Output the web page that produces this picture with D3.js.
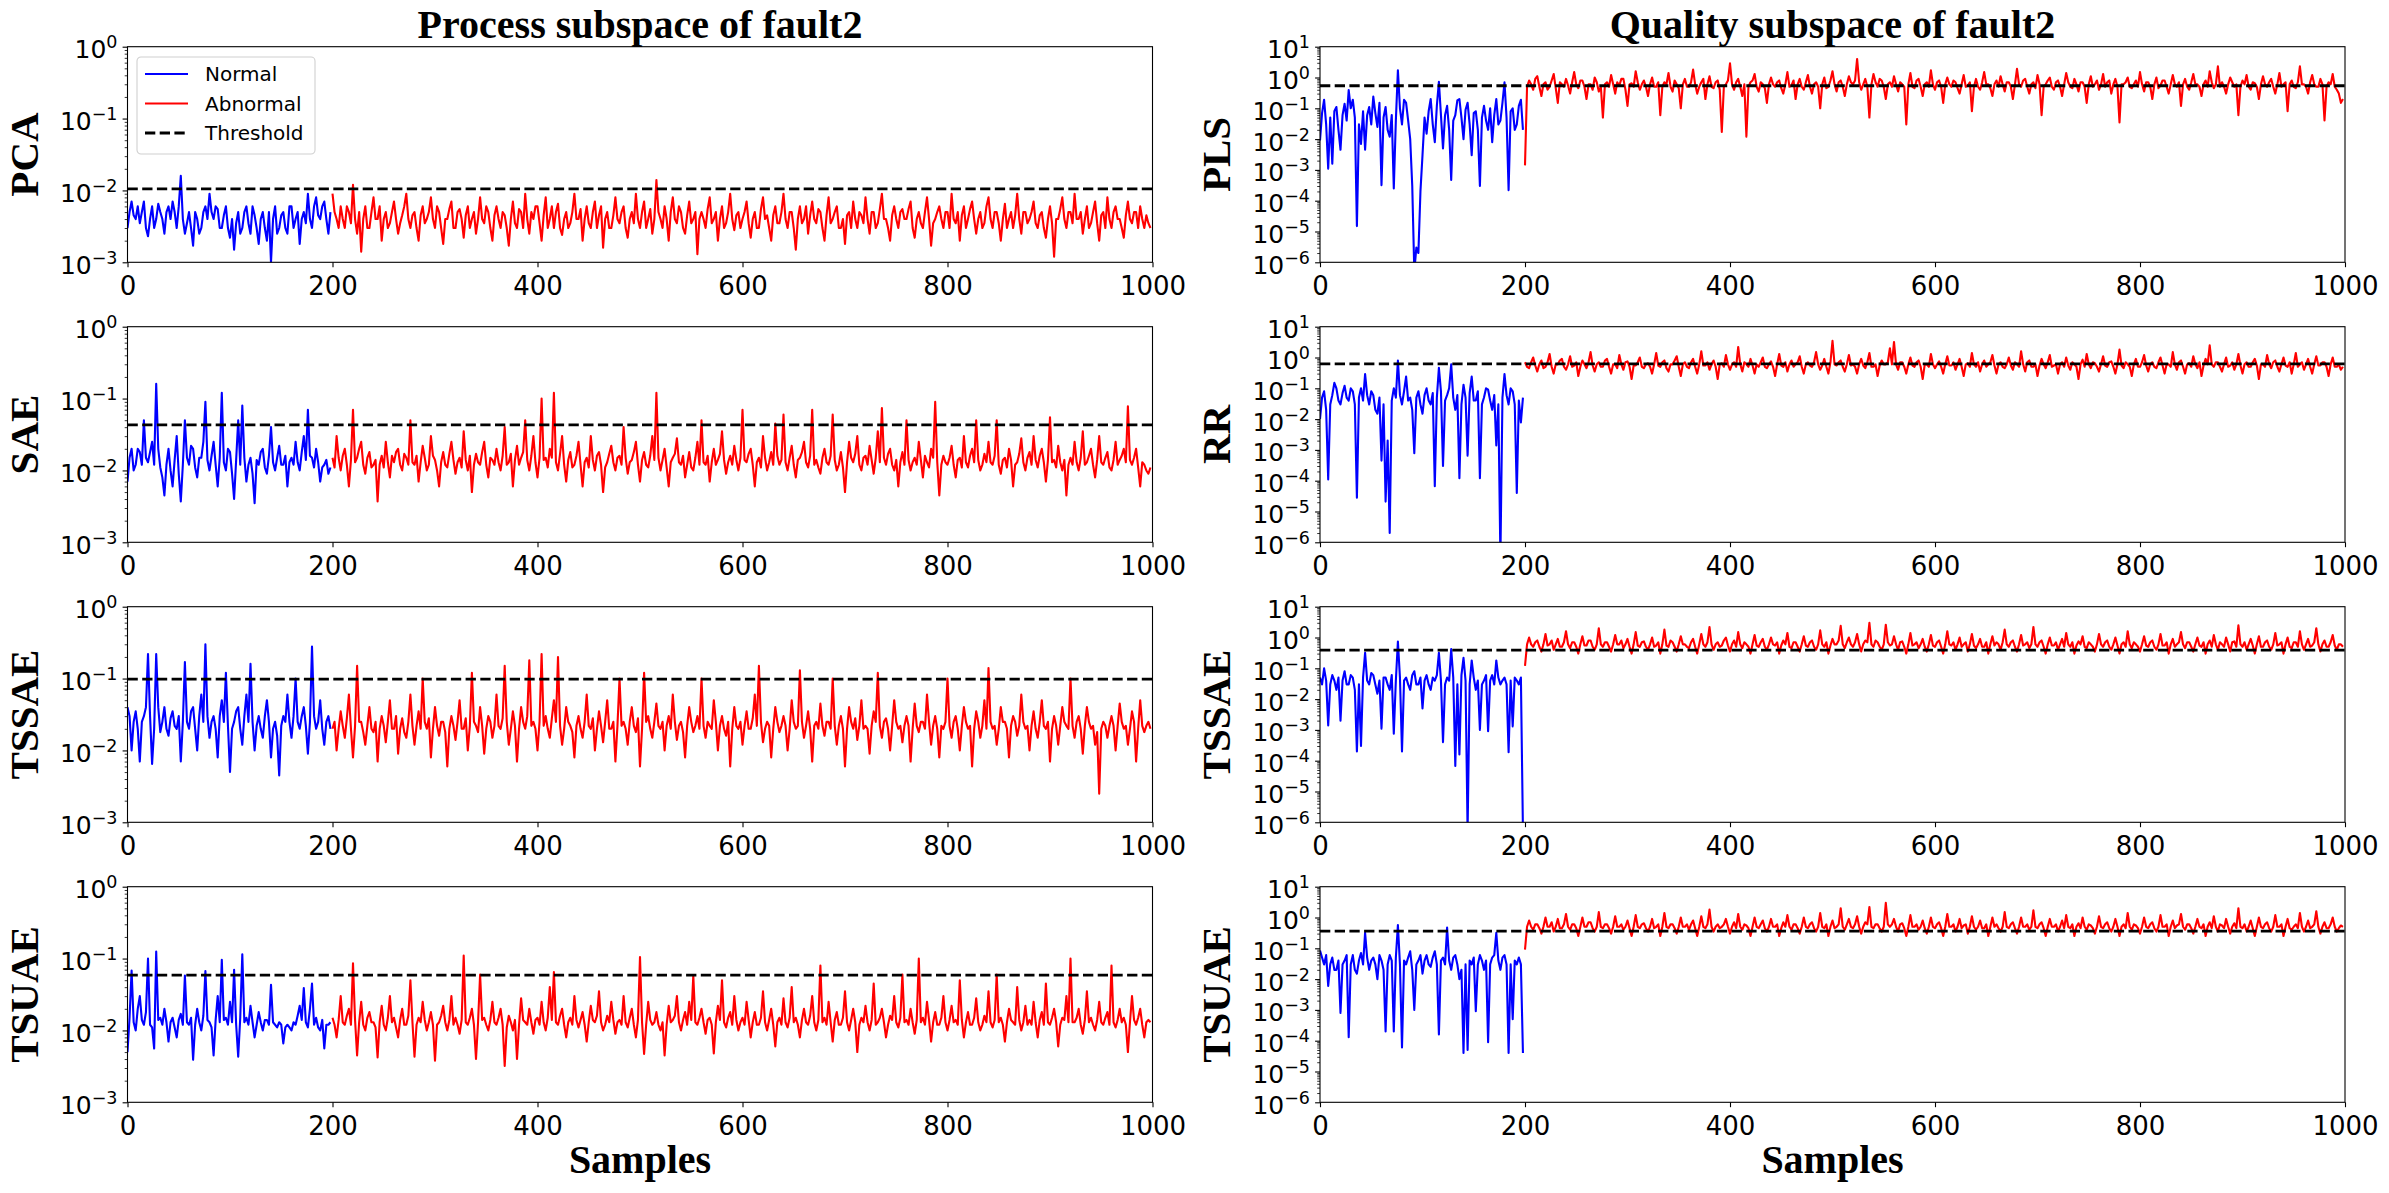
<!DOCTYPE html>
<html>
<head>
<meta charset="utf-8">
<script src="https://cdn.jsdelivr.net/npm/d3@7"></script>
<style>
body { margin: 0; background: #fff; }
</style>
</head>
<body>
<svg id="chart" width="2389" height="1193"></svg>
<script>
// values read every 2nd sample off the picture
var sampleStep = 2;
var faultStart = 200;
var xTicks = [0, 200, 400, 600, 800, 1000];
var columnTitles = ["Process subspace of fault2", "Quality subspace of fault2"];
var legendLabels = ["Normal", "Abnormal", "Threshold"];

// ---- process subspace ----
var pcaNormal = [3e-3,5e-3,7e-3,4.5e-3,4e-3,6e-3,3.5e-3,5e-3,7e-3,3e-3,2.3e-3,4e-3,6e-3,3e-3,4e-3,6.5e-3,5e-3,4e-3,2.5e-3,5e-3,
 6e-3,4e-3,7e-3,5e-3,3e-3,6e-3,1.6e-2,4e-3,2.5e-3,3.5e-3,5e-3,3e-3,1.7e-3,5e-3,4e-3,2.5e-3,3e-3,5e-3,6e-3,4e-3,
 9e-3,5e-3,4e-3,6e-3,5.5e-3,3e-3,3e-3,4.5e-3,6e-3,3e-3,2.2e-3,4e-3,1.5e-3,3.5e-3,5e-3,2.5e-3,3e-3,5e-3,6e-3,3.5e-3,
 2.5e-3,6e-3,4.5e-3,3e-3,1.8e-3,4e-3,5e-3,3e-3,2e-3,5e-3,1e-3,4e-3,6e-3,2.5e-3,3e-3,4.5e-3,5e-3,3e-3,2.5e-3,6e-3,
 6e-3,3e-3,4e-3,5e-3,1.8e-3,4e-3,5e-3,3.5e-3,9e-3,4e-3,3e-3,6e-3,8e-3,4.5e-3,4e-3,6e-3,7e-3,4e-3,2.5e-3,5e-3];
var pcaAbnormal = [9e-3,5e-3,4e-3,3e-3,6e-3,4e-3,3e-3,6e-3,5e-3,3.5e-3,1.2e-2,4e-3,2.5e-3,5e-3,1.4e-3,4e-3,6e-3,3e-3,3e-3,5e-3,
 8e-3,4e-3,4e-3,6e-3,2e-3,4e-3,5e-3,3e-3,3.5e-3,5e-3,7e-3,4e-3,2.5e-3,3.5e-3,4.5e-3,6e-3,9e-3,4e-3,3e-3,4.5e-3,
 5e-3,3e-3,2e-3,4.5e-3,6e-3,3.5e-3,4e-3,5e-3,8e-3,4e-3,3e-3,6e-3,5e-3,3e-3,1.8e-3,4e-3,4e-3,5.5e-3,7e-3,3e-3,
 3e-3,5e-3,5.5e-3,4e-3,2.2e-3,4.5e-3,6e-3,3e-3,4e-3,5e-3,2.5e-3,4e-3,8e-3,4e-3,3.5e-3,6e-3,5e-3,3e-3,2e-3,4.5e-3,
 6e-3,4e-3,3e-3,5e-3,4.5e-3,3e-3,1.7e-3,4e-3,7e-3,3.5e-3,3e-3,5.5e-3,5e-3,3e-3,9e-3,4e-3,2.5e-3,5e-3,4e-3,6e-3,
 6e-3,3.5e-3,2e-3,4.5e-3,8e-3,3e-3,4e-3,6e-3,3e-3,5e-3,6.5e-3,3e-3,2.4e-3,4e-3,5e-3,3e-3,3.5e-3,5e-3,9e-3,4e-3,
 4e-3,5.5e-3,2e-3,4e-3,6e-3,3.5e-3,3e-3,5e-3,7e-3,3e-3,4.5e-3,6e-3,1.6e-3,4e-3,5e-3,3e-3,3e-3,4.5e-3,8e-3,4e-3,
 3.5e-3,5e-3,6e-3,3e-3,2.2e-3,4e-3,5e-3,3.5e-3,9e-3,4e-3,3e-3,5e-3,7e-3,3e-3,4e-3,5.5e-3,2.5e-3,4e-3,1.4e-2,5e-3,
 4e-3,3e-3,6e-3,4e-3,2e-3,5e-3,8e-3,4e-3,3.5e-3,6e-3,5e-3,3e-3,2.5e-3,4.5e-3,7e-3,3.5e-3,4e-3,5e-3,1.3e-3,4e-3,
 5e-3,4e-3,3e-3,5.5e-3,8e-3,3.5e-3,4e-3,5e-3,2e-3,4e-3,6e-3,3e-3,3.5e-3,5e-3,9e-3,4e-3,2.8e-3,4.5e-3,5e-3,3e-3,
 4e-3,5e-3,7e-3,3.5e-3,2.2e-3,4e-3,5e-3,3e-3,3e-3,5.5e-3,8e-3,4e-3,4.5e-3,3e-3,2e-3,4.5e-3,6e-3,3.5e-3,3.5e-3,5e-3,
 9e-3,4e-3,3e-3,5e-3,5e-3,3e-3,1.5e-3,4e-3,6e-3,3.5e-3,4e-3,6e-3,2.5e-3,4.5e-3,7e-3,4e-3,3.5e-3,5.5e-3,5e-3,3e-3,
 2e-3,4.5e-3,8e-3,3.5e-3,4e-3,5e-3,6e-3,3e-3,3e-3,4e-3,1.8e-3,4.5e-3,5e-3,3e-3,7e-3,4e-3,3e-3,5e-3,4.5e-3,3.5e-3,
 8e-3,4e-3,2.5e-3,5e-3,5e-3,3e-3,3.5e-3,5.5e-3,9e-3,4e-3,4e-3,3e-3,2e-3,4.5e-3,6e-3,4e-3,3e-3,5e-3,5.5e-3,4e-3,
 4e-3,5.5e-3,7e-3,3e-3,2.2e-3,4e-3,5e-3,3.5e-3,3e-3,5e-3,8e-3,4e-3,1.7e-3,3.5e-3,4e-3,5e-3,6e-3,4e-3,3e-3,5e-3,
 5e-3,3e-3,9e-3,4e-3,3.5e-3,5e-3,2e-3,4.5e-3,6e-3,3e-3,4e-3,5.5e-3,7e-3,4e-3,2.5e-3,4e-3,5e-3,3e-3,3.5e-3,6e-3,
 8e-3,4e-3,3e-3,5e-3,5e-3,3.5e-3,2e-3,4e-3,6.5e-3,3e-3,4e-3,5e-3,3e-3,4.5e-3,9e-3,4e-3,2.5e-3,5e-3,5e-3,3.5e-3,
 4e-3,5e-3,7e-3,3.5e-3,3e-3,4.5e-3,5e-3,3e-3,2.2e-3,4e-3,6e-3,3.5e-3,1.2e-3,4e-3,4e-3,5.5e-3,8e-3,4e-3,3e-3,5e-3,
 5e-3,3.5e-3,9e-3,4e-3,4e-3,5e-3,2.5e-3,4e-3,6e-3,3e-3,3.5e-3,5e-3,7e-3,3.5e-3,2e-3,4.5e-3,5e-3,3e-3,8e-3,4e-3,
 3e-3,5e-3,6e-3,4e-3,4e-3,3e-3,2.2e-3,4.5e-3,7e-3,4e-3,3.5e-3,5e-3,5e-3,3e-3,6e-3,4e-3,3e-3,4.5e-3,3.5e-3,3e-3];

var saeNormal = [7e-3,1.5e-2,2e-2,1e-2,1.2e-2,2e-2,1.8e-2,1.2e-2,5e-2,1.5e-2,1.3e-2,1.8e-2,2.5e-2,1.2e-2,1.6e-1,2e-2,1.1e-2,8e-3,4.5e-3,1.2e-2,
 2e-2,1e-2,6e-3,1.4e-2,3e-2,9e-3,3.7e-3,1.2e-2,5e-2,1.5e-2,1.2e-2,2.2e-2,2e-2,1.1e-2,8e-3,1.5e-2,1.5e-2,2.5e-2,9e-2,1.4e-2,
 1e-2,1.6e-2,2.5e-2,1.2e-2,6e-3,1.5e-2,1.2e-1,1.3e-2,1e-2,2e-2,1.8e-2,9e-3,4e-3,1.4e-2,5e-2,1.2e-2,8e-2,1.5e-2,7e-3,1.2e-2,
 1.5e-2,9e-3,3.5e-3,1.4e-2,1.2e-2,1.8e-2,2e-2,1.1e-2,9e-3,1.6e-2,4e-2,1.3e-2,1e-2,1.5e-2,2.2e-2,1.2e-2,1.2e-2,1.6e-2,6e-3,1.3e-2,
 1.5e-2,1.2e-2,2.5e-2,1.3e-2,1e-2,1.8e-2,3e-2,1.4e-2,7e-2,1.6e-2,1.5e-2,1.1e-2,2e-2,1.3e-2,7e-3,1.1e-2,1.2e-2,1.4e-2,9e-3,1.1e-2];
var saeAbnormal = [1.5e-2,1.1e-2,3e-2,1.5e-2,1e-2,1.6e-2,2e-2,1.2e-2,6e-3,1.4e-2,7e-2,1.3e-2,1.5e-2,2e-2,2.5e-2,1.2e-2,9e-3,1.5e-2,1.8e-2,1.1e-2,
 1.2e-2,1.4e-2,3.7e-3,1.2e-2,1.6e-2,1.1e-2,2.5e-2,1.3e-2,8e-3,1.6e-2,1.3e-2,1.8e-2,2e-2,1.2e-2,1e-2,1.7e-2,1.5e-2,1.2e-2,5e-2,1.3e-2,
 1.2e-2,1.6e-2,7e-3,1.3e-2,2.2e-2,1.5e-2,1e-2,1.2e-2,3e-2,1.6e-2,1.4e-2,1e-2,6e-3,1.3e-2,1.8e-2,1.2e-2,1.1e-2,1.7e-2,2.5e-2,1.4e-2,
 9e-3,1.3e-2,1.5e-2,1.1e-2,3.5e-2,1.4e-2,1e-2,1.6e-2,5e-3,1.2e-2,1.7e-2,1.3e-2,1.2e-2,1.8e-2,2.5e-2,1.2e-2,8e-3,1.5e-2,1.4e-2,1.2e-2,
 2e-2,1.3e-2,1e-2,1.6e-2,4e-2,1.2e-2,1.3e-2,1.7e-2,6e-3,1.4e-2,2.2e-2,1.2e-2,1.5e-2,1.8e-2,5e-2,1.4e-2,1e-2,1.6e-2,3e-2,1.3e-2,
 8e-3,1.5e-2,1e-1,1.4e-2,1.5e-2,1.1e-2,2e-2,1.5e-2,1.2e-1,1.3e-2,1e-2,1.7e-2,3e-2,1.2e-2,7e-3,1.4e-2,1.8e-2,1.1e-2,1.2e-2,1.6e-2,
 2.5e-2,1.2e-2,6e-3,1.3e-2,1.5e-2,1.1e-2,3e-2,1.4e-2,1e-2,1.6e-2,1.8e-2,1.2e-2,5e-3,1.1e-2,1.3e-2,1.7e-2,2.2e-2,1.3e-2,1e-2,1.5e-2,
 1.6e-2,1.2e-2,4e-2,1.5e-2,9e-3,1.3e-2,1.4e-2,1.8e-2,2.5e-2,1.2e-2,7e-3,1.4e-2,1.8e-2,1.2e-2,1.1e-2,1.6e-2,3e-2,1.4e-2,1.2e-1,1.5e-2,
 1e-2,1.4e-2,2e-2,1.1e-2,6e-3,1.3e-2,1.5e-2,1.7e-2,2.8e-2,1.3e-2,1.2e-2,1.6e-2,8e-3,1.2e-2,1.8e-2,1.1e-2,1e-2,1.5e-2,2.5e-2,1.2e-2,
 5e-2,1.3e-2,1.2e-2,1.6e-2,7e-3,1.3e-2,2e-2,1.2e-2,1.4e-2,1.7e-2,3.5e-2,1.4e-2,9e-3,1.3e-2,1.6e-2,1.2e-2,2.2e-2,1.4e-2,1e-2,1.5e-2,
 7e-2,1.4e-2,1.3e-2,1.7e-2,2e-2,1.2e-2,6e-3,1.3e-2,1.5e-2,1.1e-2,3e-2,1.5e-2,1e-2,1.3e-2,1.8e-2,1.2e-2,4.5e-2,1.6e-2,1.2e-2,1.4e-2,
 6e-2,1.3e-2,1e-2,1.5e-2,2.2e-2,1.2e-2,8e-3,1.4e-2,1.5e-2,1.8e-2,2.5e-2,1.3e-2,1.1e-2,1.6e-2,7e-2,1.2e-2,1.4e-2,1.1e-2,9e-3,1.5e-2,
 2e-2,1.3e-2,1.2e-2,1.6e-2,6e-2,1.4e-2,1e-2,1.2e-2,1.8e-2,1.1e-2,5e-3,1.3e-2,2.5e-2,1.5e-2,1.3e-2,1.7e-2,3e-2,1.2e-2,1e-2,1.5e-2,
 1.6e-2,1.2e-2,2.2e-2,1.4e-2,9e-3,1.5e-2,3.5e-2,1.3e-2,7.4e-2,1.5e-2,1.2e-2,1.7e-2,2e-2,1.2e-2,1e-2,1.4e-2,6e-3,1.3e-2,1.8e-2,1.2e-2,
 5e-2,1.4e-2,1e-2,1.3e-2,1.5e-2,1.2e-2,2.5e-2,1.4e-2,8e-3,1.6e-2,1.3e-2,1.1e-2,2e-2,1.5e-2,9e-2,1.3e-2,4.5e-3,1.2e-2,1.6e-2,1.3e-2,
 1.2e-2,1.5e-2,2.2e-2,1.2e-2,8e-3,1.4e-2,1.5e-2,1.1e-2,3e-2,1.3e-2,1.1e-2,1.6e-2,2e-2,1.3e-2,5e-2,1.4e-2,1e-2,1.2e-2,1.7e-2,1.3e-2,
 2.5e-2,1.3e-2,1.2e-2,1.6e-2,5e-2,1.2e-2,9e-3,1.4e-2,1.5e-2,1.1e-2,2e-2,1.4e-2,6e-3,1.2e-2,1.3e-2,1.7e-2,2.8e-2,1.3e-2,1e-2,1.5e-2,
 1.8e-2,1.2e-2,3e-2,1.4e-2,1.1e-2,1.6e-2,2e-2,1.3e-2,7e-3,1.4e-2,5.5e-2,1.3e-2,1.4e-2,1.1e-2,2.2e-2,1.3e-2,1e-2,1.4e-2,4.5e-3,1.2e-2,
 1.5e-2,1.2e-2,2.5e-2,1.3e-2,1e-2,1.5e-2,3.5e-2,1.2e-2,1.3e-2,1.6e-2,2e-2,1.2e-2,8e-3,1.4e-2,3e-2,1.3e-2,1.2e-2,1.5e-2,1.8e-2,1.1e-2,
 1e-2,1.4e-2,2.5e-2,1.2e-2,1.4e-2,1.6e-2,2e-2,1.3e-2,7.8e-2,1.4e-2,1.2e-2,1.5e-2,2e-2,1.1e-2,6e-3,1.3e-2,1.2e-2,1e-2,9e-3,1.1e-2];

var tssaeProcNormal = [4e-2,3e-2,1e-2,2.5e-2,3.5e-2,2e-2,7e-3,2.5e-2,3e-2,4e-2,2.2e-1,3e-2,6.5e-3,2e-2,2.2e-1,4e-2,1.8e-2,2.5e-2,4e-2,2e-2,
 1.6e-2,2.8e-2,3.5e-2,2.2e-2,2e-2,3e-2,7e-3,2.5e-2,1.7e-1,2.5e-2,2e-2,3.5e-2,4e-2,2e-2,1e-2,3e-2,6e-2,2.5e-2,3e-1,3e-2,
 1.5e-2,2.5e-2,3e-2,2e-2,8e-3,3e-2,5e-2,2.5e-2,1.2e-1,2.2e-2,5e-3,2e-2,2.5e-2,3.5e-2,4e-2,2e-2,1.2e-2,3e-2,6e-2,2.5e-2,
 1.6e-1,2.5e-2,1e-2,2.2e-2,3e-2,2e-2,1.5e-2,3e-2,5e-2,2.5e-2,8e-3,2e-2,2.5e-2,1.6e-2,4.5e-3,2.2e-2,3e-2,2.5e-2,6e-2,2.5e-2,
 1.5e-2,3e-2,1e-1,2.5e-2,2e-2,3e-2,4e-2,2.2e-2,9e-3,2.5e-2,2.8e-1,3e-2,2e-2,2.5e-2,5e-2,2e-2,1.2e-2,2.5e-2,3e-2,2e-2];
var tssaeProcAbnormal = [2e-2,2.5e-2,1e-2,2e-2,3.5e-2,2.2e-2,1.5e-2,2.8e-2,6e-2,2e-2,8e-3,2.2e-2,1.5e-1,2.5e-2,2.5e-2,1.8e-2,1.2e-2,2.2e-2,4e-2,2e-2,
 1.8e-2,2.5e-2,7e-3,2e-2,3e-2,2.2e-2,1.3e-2,2.5e-2,5e-2,2e-2,2e-2,3e-2,9e-3,2e-2,2.8e-2,1.8e-2,1.5e-2,2.5e-2,6e-2,2.2e-2,
 1.2e-2,2.2e-2,3.5e-2,2e-2,1e-1,2.5e-2,2e-2,2.8e-2,8e-3,2e-2,4e-2,2.2e-2,1.6e-2,2.5e-2,2.5e-2,1.8e-2,6e-3,2e-2,3e-2,2.2e-2,
 1.4e-2,2.5e-2,5e-2,2e-2,2e-2,2.8e-2,1e-2,2.2e-2,1.2e-1,2.5e-2,2.2e-2,1.8e-2,4e-2,2.2e-2,9e-3,2e-2,3e-2,2.5e-2,1.5e-2,2.2e-2,
 6e-2,2.2e-2,2e-2,2.8e-2,1.5e-1,2.5e-2,1.2e-2,2e-2,3.5e-2,2.2e-2,7e-3,2e-2,4e-2,2.5e-2,2e-2,3e-2,1.8e-1,2.2e-2,2.5e-2,2e-2,
 1e-2,2.5e-2,2.2e-1,2.2e-2,3e-2,2e-2,1.5e-2,2.8e-2,5e-2,2.5e-2,2e-1,2.2e-2,1.2e-2,2e-2,4e-2,2.5e-2,2.2e-2,1.8e-2,8e-3,2.2e-2,
 3e-2,2e-2,1.5e-2,2.5e-2,6e-2,2.2e-2,2e-2,2.8e-2,1e-2,2e-2,3.5e-2,2.2e-2,1.3e-2,2.5e-2,5e-2,2e-2,2e-2,2.5e-2,7e-3,2.2e-2,
 1e-1,2.2e-2,2.5e-2,2e-2,1.2e-2,2.5e-2,4e-2,2.2e-2,1.8e-2,2.8e-2,6e-3,2e-2,1.2e-1,2.5e-2,3e-2,2e-2,1.5e-2,2.5e-2,4.5e-2,2.2e-2,
 2e-2,2.5e-2,1e-2,2.2e-2,3e-2,2e-2,6e-2,2.5e-2,1.4e-2,2.2e-2,2.5e-2,1.8e-2,8e-3,2.2e-2,4e-2,2.5e-2,1.8e-2,2.2e-2,3e-2,2e-2,
 1e-1,2.2e-2,1.5e-2,2.5e-2,2.2e-2,2e-2,5e-2,2.5e-2,1e-2,2.2e-2,3e-2,2e-2,1.6e-2,2.5e-2,6e-3,2e-2,4e-2,2.2e-2,2e-2,2.5e-2,
 1.2e-2,2.2e-2,3.5e-2,2e-2,2e-2,2.8e-2,6e-2,2.2e-2,1.5e-1,2.5e-2,1.3e-2,2e-2,2.5e-2,2.2e-2,8e-3,2e-2,4e-2,2.5e-2,1.8e-2,2.2e-2,
 3e-2,2.2e-2,1e-2,2e-2,5e-2,2.5e-2,2e-2,2.2e-2,1.3e-1,2.5e-2,1.5e-2,2.2e-2,3.5e-2,2e-2,7e-3,2.2e-2,2.5e-2,2e-2,4.5e-2,2.2e-2,
 1.6e-2,2.5e-2,2.5e-2,2e-2,1e-1,2.2e-2,1.2e-2,2.2e-2,3e-2,2e-2,6e-3,2e-2,4e-2,2.5e-2,2e-2,2.8e-2,1.4e-2,2.2e-2,5e-2,2e-2,
 2.2e-2,2e-2,9e-3,2.2e-2,3.5e-2,2.5e-2,1.2e-1,2.2e-2,1.5e-2,2.5e-2,2.8e-2,2e-2,1e-2,2.2e-2,5e-2,2.5e-2,2e-2,2.2e-2,1.3e-2,2.2e-2,
 3e-2,2.2e-2,7e-3,2e-2,4.5e-2,2.2e-2,1.8e-2,2.5e-2,2.5e-2,2e-2,6e-2,2.5e-2,1.2e-2,2.2e-2,3e-2,2e-2,8e-3,2.2e-2,2e-2,2.5e-2,
 1e-1,2.2e-2,1.5e-2,2.5e-2,3e-2,2e-2,1e-2,2.2e-2,4e-2,2.5e-2,2e-2,2.2e-2,6e-3,2e-2,3.5e-2,2.5e-2,1.5e-2,2.2e-2,5e-2,2e-2,
 1.4e-1,2.5e-2,2e-2,2.2e-2,1.2e-2,2e-2,4e-2,2.5e-2,2.5e-2,2e-2,8e-3,2.2e-2,3e-2,2.5e-2,1.6e-2,2.2e-2,6e-2,2.5e-2,2e-2,2.2e-2,
 1e-2,2.2e-2,3.5e-2,2e-2,1.5e-2,2.5e-2,5e-2,2.2e-2,2e-2,2.5e-2,7e-3,2e-2,3e-2,2.2e-2,1.2e-2,2.2e-2,4e-2,2.5e-2,2.2e-2,2e-2,
 1e-1,2.2e-2,1.5e-2,2.5e-2,3e-2,2e-2,9e-3,2.2e-2,4e-2,2.5e-2,2e-2,2.2e-2,1.2e-2,1.8e-2,2.5e-3,2e-2,2.5e-2,2.2e-2,1.5e-2,2.2e-2,
 3e-2,2.2e-2,1e-2,2.2e-2,4.5e-2,2.5e-2,2e-2,2.2e-2,1.2e-2,2e-2,3.5e-2,2.5e-2,7e-3,2e-2,5e-2,2.2e-2,1.8e-2,2.2e-2,2.5e-2,2e-2];

var tsuaeProcNormal = [5e-3,1.5e-2,6.8e-2,1.3e-2,1e-2,2e-2,3e-2,1.4e-2,1.2e-2,1.8e-2,1e-1,1.2e-2,1.1e-2,5.6e-3,1.25e-1,1.4e-2,1.5e-2,1.2e-2,2e-2,1.3e-2,
 7e-3,1.3e-2,1.5e-2,1.1e-2,8e-3,1.4e-2,1.7e-2,1.2e-2,5.8e-2,1.3e-2,1.2e-2,1.5e-2,3.9e-3,1.2e-2,2e-2,1.3e-2,1e-2,1.6e-2,6.7e-2,1.4e-2,
 1.3e-2,1.1e-2,4.5e-3,1.4e-2,3e-2,1.3e-2,9.6e-2,1.4e-2,1.5e-2,1.2e-2,2.5e-2,1.3e-2,7e-2,1.2e-2,4.3e-3,1.5e-2,1.15e-1,1.3e-2,1.5e-2,1.2e-2,
 2.2e-2,1.3e-2,8e-3,1.2e-2,1.8e-2,1.3e-2,1e-2,1.4e-2,1.4e-2,1.2e-2,4.3e-2,1.3e-2,1.2e-2,1.1e-2,1.3e-2,1.2e-2,6.6e-3,1.1e-2,1.2e-2,1.1e-2,
 1e-2,1.3e-2,1.2e-2,1.6e-2,2.2e-2,1.4e-2,3.9e-2,1.3e-2,1.1e-2,2e-2,4.5e-2,1.2e-2,1.5e-2,1.1e-2,1e-2,1.4e-2,5.6e-3,1.2e-2,1.2e-2,1.3e-2];
var tsuaeProcAbnormal = [1.5e-2,1.2e-2,8e-3,1.4e-2,3e-2,1.3e-2,1.2e-2,1.6e-2,2e-2,1.2e-2,8.6e-2,1.4e-2,4.5e-3,1.3e-2,2.5e-2,1.2e-2,1e-2,1.5e-2,1.8e-2,1.3e-2,
 1.3e-2,1.1e-2,4.2e-3,1.3e-2,2.2e-2,1.2e-2,1e-2,1.5e-2,3e-2,1.3e-2,1.5e-2,1.1e-2,8e-3,1.4e-2,2e-2,1.2e-2,1.2e-2,1.6e-2,5e-2,1.3e-2,
 4.3e-3,1.2e-2,1.5e-2,1.3e-2,2.5e-2,1.4e-2,1e-2,1.3e-2,1.8e-2,1.2e-2,3.8e-3,1.2e-2,1.3e-2,1.6e-2,2.2e-2,1.3e-2,1e-2,1.4e-2,3e-2,1.2e-2,
 1.5e-2,1.2e-2,9e-3,1.4e-2,1.1e-1,1.3e-2,1.2e-2,1.5e-2,2e-2,1.2e-2,4e-3,1.3e-2,6e-2,1.4e-2,1.5e-2,1.2e-2,1e-2,1.4e-2,2.5e-2,1.3e-2,
 1.2e-2,1.5e-2,2e-2,1.2e-2,3.2e-3,1.1e-2,1.6e-2,1.3e-2,1e-2,1.4e-2,4e-3,1.2e-2,2.8e-2,1.4e-2,1.3e-2,1.2e-2,2e-2,1.3e-2,9e-3,1.4e-2,
 1.5e-2,1.2e-2,2.5e-2,1.3e-2,1e-2,1.5e-2,4e-2,1.4e-2,6.5e-2,1.3e-2,1.2e-2,1.6e-2,2e-2,1.2e-2,8e-3,1.3e-2,1.5e-2,1.2e-2,3e-2,1.4e-2,
 1.1e-2,1.4e-2,1.8e-2,1.2e-2,7e-3,1.3e-2,2.2e-2,1.4e-2,1.3e-2,1.6e-2,3.5e-2,1.3e-2,1e-2,1.2e-2,1.6e-2,1.3e-2,2.5e-2,1.4e-2,9e-3,1.3e-2,
 1.4e-2,1.2e-2,3e-2,1.3e-2,1.1e-2,1.5e-2,2e-2,1.2e-2,8e-3,1.4e-2,1.05e-1,1.3e-2,4.7e-3,1.2e-2,2.5e-2,1.4e-2,1.2e-2,1.3e-2,1.8e-2,1.2e-2,
 1e-2,1.3e-2,4.5e-3,1.2e-2,2.2e-2,1.3e-2,1.4e-2,1.6e-2,3e-2,1.3e-2,1e-2,1.4e-2,1.8e-2,1.2e-2,2.5e-2,1.4e-2,5.8e-2,1.3e-2,1.2e-2,1.5e-2,
 2e-2,1.3e-2,9e-3,1.4e-2,1.5e-2,1.2e-2,4.8e-3,1.3e-2,2.2e-2,1.4e-2,5e-2,1.3e-2,1.1e-2,1.5e-2,1.8e-2,1.2e-2,3e-2,1.4e-2,1e-2,1.3e-2,
 1.5e-2,1.2e-2,2.5e-2,1.4e-2,8e-3,1.3e-2,1.8e-2,1.2e-2,1.2e-2,1.5e-2,3.5e-2,1.3e-2,1e-2,1.4e-2,2e-2,1.2e-2,6e-3,1.3e-2,1.5e-2,1.2e-2,
 2.8e-2,1.3e-2,1.1e-2,1.5e-2,4e-2,1.3e-2,1.5e-2,1.2e-2,8e-3,1.4e-2,2e-2,1.3e-2,1.2e-2,1.6e-2,3e-2,1.3e-2,1e-2,1.4e-2,8e-2,1.3e-2,
 1.5e-2,1.2e-2,2.5e-2,1.3e-2,7e-3,1.4e-2,1.8e-2,1.2e-2,1.2e-2,1.5e-2,3.5e-2,1.3e-2,1e-2,1.4e-2,2e-2,1.3e-2,5e-3,1.2e-2,1.5e-2,1.3e-2,
 2.2e-2,1.3e-2,1e-2,1.4e-2,4.5e-2,1.2e-2,1.3e-2,1.5e-2,2e-2,1.3e-2,8e-3,1.2e-2,1.6e-2,1.4e-2,3e-2,1.3e-2,1.1e-2,1.5e-2,6e-2,1.3e-2,
 1.4e-2,1.2e-2,2e-2,1.3e-2,9e-3,1.4e-2,1e-1,1.3e-2,1.5e-2,1.2e-2,2.5e-2,1.4e-2,7e-3,1.3e-2,1.8e-2,1.2e-2,1.2e-2,1.5e-2,3e-2,1.3e-2,
 1e-2,1.4e-2,2.2e-2,1.3e-2,1.4e-2,1.2e-2,5e-2,1.4e-2,8e-3,1.3e-2,1.8e-2,1.2e-2,1.2e-2,1.5e-2,2.8e-2,1.3e-2,1e-2,1.2e-2,1.6e-2,1.3e-2,
 3.5e-2,1.3e-2,1.1e-2,1.4e-2,6e-2,1.3e-2,1.5e-2,1.2e-2,7e-3,1.3e-2,2e-2,1.4e-2,1.3e-2,1.2e-2,4e-2,1.4e-2,1e-2,1.3e-2,2.2e-2,1.2e-2,
 1.4e-2,1.2e-2,2.5e-2,1.3e-2,8e-3,1.4e-2,1.8e-2,1.2e-2,4.5e-2,1.3e-2,1.2e-2,1.5e-2,2e-2,1.3e-2,6e-3,1.2e-2,1.5e-2,1.4e-2,3e-2,1.3e-2,
 1e-1,1.3e-2,1.3e-2,1.5e-2,2e-2,1.2e-2,9e-3,1.4e-2,3.5e-2,1.3e-2,1.5e-2,1.2e-2,1e-2,1.4e-2,2.5e-2,1.3e-2,1.2e-2,1.5e-2,1.8e-2,1.2e-2,
 8e-2,1.3e-2,1.1e-2,1.4e-2,2e-2,1.3e-2,1.5e-2,1.2e-2,5e-3,1.3e-2,3e-2,1.4e-2,1.2e-2,1.5e-2,2e-2,1.2e-2,8e-3,1.3e-2,1.4e-2,1.3e-2];

// ---- quality subspace ----
var plsNormal = [9e-3,7e-2,1.9e-1,3e-2,1.1e-3,5e-2,1.6e-3,8e-2,1.1e-1,2e-2,4.5e-3,6e-2,1.4e-1,4e-2,3.9e-1,1e-1,1.9e-1,5e-2,1.5e-5,3e-2,
 7e-3,8e-2,4.5e-3,6e-2,1.1e-1,3e-2,2.4e-1,7e-2,2.5e-2,1.5e-1,3.2e-4,5e-2,1.1e-1,2e-2,1.2e-2,6e-2,2.5e-4,4e-2,1.7,1e-1,
 3e-2,1.9e-1,1.5e-1,4e-2,1e-2,3e-4,5e-7,3e-6,2e-6,2e-4,3e-3,5e-2,1.5e-2,8e-2,2e-1,3e-2,8e-3,1.2e-1,7.2e-1,6e-2,
 5e-3,6e-2,1.2e-1,2e-2,4.7e-4,4e-2,6e-2,1.8e-1,2e-1,5e-2,1e-2,9e-2,1.5e-1,3e-2,3e-3,7e-2,8e-2,2e-2,3e-4,5e-2,
 1.2e-1,4e-2,2e-2,1e-1,8e-3,6e-2,2e-1,3e-2,4e-2,1.5e-1,7e-1,5e-2,2.2e-4,8e-2,1e-1,2e-2,3e-2,1.2e-1,1.9e-1,2e-2];
var plsAbnormal = [1.4e-3,0.5,0.8,0.6,0.4,0.9,1.1,0.5,0.25,0.6,0.7,0.4,0.5,0.8,1.3,0.45,0.15,0.7,0.6,0.5,
 0.9,0.55,0.3,0.7,1.5,0.6,0.45,0.8,0.8,0.5,0.2,0.6,0.6,0.4,1.0,0.7,0.35,0.5,0.05,0.6,
 0.7,0.5,1.2,0.6,0.3,0.7,0.55,0.9,0.9,0.4,0.12,0.6,0.65,0.5,1.6,0.7,0.4,0.6,0.8,0.5,
 0.25,0.6,1.0,0.5,0.5,0.7,0.06,0.5,0.7,0.6,1.4,0.5,0.35,0.8,0.6,0.45,0.1,0.6,0.9,0.5,
 0.5,0.7,1.8,0.6,0.3,0.5,0.7,0.9,0.2,0.6,1.1,0.5,0.45,0.7,0.8,0.4,0.017,0.5,0.6,0.8,
 2.9,0.6,0.4,0.7,0.9,0.5,0.25,0.6,0.012,0.5,0.7,0.8,1.3,0.5,0.35,0.7,0.6,0.45,0.15,0.6,
 1.0,0.6,0.5,0.7,0.8,0.45,0.3,0.6,1.5,0.5,0.55,0.8,0.2,0.6,0.9,0.5,0.4,0.7,1.2,0.5,
 0.3,0.6,0.7,0.5,0.1,0.6,1.0,0.45,0.5,0.8,1.6,0.6,0.35,0.7,0.8,0.5,0.25,0.6,1.1,0.7,
 0.6,0.8,4.0,0.7,0.4,0.6,0.9,0.5,0.05,0.6,1.3,0.7,0.5,0.9,0.8,0.5,0.2,0.6,0.7,0.5,
 1.1,0.6,0.35,0.7,0.6,0.5,0.03,0.6,1.4,0.5,0.45,0.8,0.9,0.5,0.25,0.6,0.7,0.5,1.7,0.6,
 0.4,0.7,0.8,0.5,0.15,0.6,1.0,0.6,0.5,0.8,0.7,0.45,0.3,0.6,1.2,0.5,0.55,0.7,0.08,0.5,
 0.9,0.5,0.4,0.7,1.5,0.6,0.6,0.45,0.25,0.6,0.8,0.5,1.1,0.6,0.35,0.7,0.7,0.5,0.2,0.6,
 1.9,0.6,0.5,0.8,0.9,0.5,0.3,0.6,0.7,0.45,1.2,0.6,0.06,0.5,0.6,0.8,1.0,0.5,0.4,0.7,
 0.8,0.5,0.25,0.6,1.4,0.7,0.5,0.45,0.9,0.6,0.35,0.7,0.7,0.5,0.15,0.6,1.1,0.5,0.6,0.8,
 0.4,0.6,1.3,0.5,0.7,0.8,0.3,0.6,0.9,0.5,0.035,0.6,0.6,0.7,1.0,0.5,0.45,0.6,0.8,0.5,
 1.5,0.6,0.35,0.7,0.7,0.5,0.2,0.6,1.0,0.45,0.55,0.8,0.8,0.5,0.3,0.6,1.2,0.6,0.5,0.7,
 0.12,0.6,0.9,0.5,0.4,0.7,1.3,0.6,0.6,0.5,0.25,0.6,0.8,0.5,1.6,0.7,0.45,0.6,2.3,0.5,
 0.7,0.5,0.3,0.6,1.0,0.7,0.5,0.6,0.06,0.5,0.8,0.6,1.2,0.5,0.4,0.7,0.65,0.5,0.2,0.6,
 1.1,0.6,0.5,0.7,0.9,0.5,0.3,0.6,1.4,0.5,0.6,0.7,0.08,0.6,0.8,0.5,0.45,0.7,2.3,0.6,
 0.6,0.5,0.3,0.7,1.2,0.6,0.5,0.5,0.9,0.6,0.04,0.5,0.7,0.6,1.3,0.5,0.4,0.3,0.15,0.2];

var rrNormal = [1e-2,5e-2,8e-2,2e-2,1.1e-4,3e-2,6e-2,1.5e-1,1e-1,4e-2,3e-2,7e-2,1.2e-1,5e-2,4e-2,1e-1,8e-2,3e-2,2.8e-5,5e-2,
 1e-1,4e-2,2.9e-1,6e-2,3e-2,8e-2,6e-2,2e-2,1.5e-2,5e-2,4.5e-4,3e-2,2.1e-5,2e-3,2e-6,4e-2,1e-1,5e-2,8e-1,6e-2,
 3e-2,8e-2,2.4e-1,4e-2,5e-2,2e-2,7.8e-4,5e-2,8e-2,3e-2,1.5e-2,6e-2,1e-1,4e-2,3e-2,7e-2,6.6e-5,5e-2,4.6e-1,8e-2,
 3e-4,4e-2,6e-2,1e-1,6e-1,5e-2,2e-2,6e-2,1.2e-4,3e-2,1.3e-1,5e-2,6.5e-4,7e-2,2.4e-1,4e-2,4e-2,8e-2,1.2e-4,3e-2,
 5e-2,1e-1,9e-2,4e-2,2e-2,6e-2,1.4e-3,3e-2,3e-7,5e-2,2.9e-1,6e-2,3e-2,1e-1,8e-2,3e-2,4e-5,4e-2,7.8e-3,5e-2];
var rrAbnormal = [0.7,0.5,0.45,0.7,1.0,0.55,0.35,0.6,0.8,0.45,0.5,0.7,1.3,0.5,0.3,0.6,0.6,0.8,0.9,0.5,
 0.4,0.6,1.1,0.5,0.55,0.7,0.25,0.5,0.8,0.6,0.45,0.7,1.5,0.55,0.35,0.6,0.7,0.5,0.5,0.8,
 0.9,0.5,0.3,0.6,0.6,0.45,1.2,0.6,0.4,0.7,0.75,0.5,0.2,0.55,0.55,0.7,1.0,0.5,0.45,0.6,
 0.65,0.5,0.3,0.6,1.4,0.55,0.5,0.7,0.8,0.45,0.35,0.6,0.6,0.8,1.1,0.5,0.25,0.6,0.7,0.5,
 0.45,0.7,0.9,0.5,0.3,0.6,1.6,0.55,0.55,0.7,0.4,0.6,0.8,0.5,0.2,0.6,0.65,0.5,1.2,0.6,
 0.4,0.6,0.7,0.5,2.2,0.6,0.35,0.7,0.6,0.5,0.9,0.55,0.3,0.6,0.5,0.7,1.0,0.5,0.45,0.6,
 0.75,0.5,0.25,0.6,1.3,0.55,0.5,0.7,0.35,0.6,0.8,0.5,0.6,0.7,1.1,0.5,0.3,0.6,0.7,0.55,
 0.5,0.7,1.5,0.6,0.4,0.55,0.9,0.5,0.3,0.7,3.5,0.6,0.55,0.7,0.8,0.5,0.35,0.6,1.2,0.55,
 0.6,0.5,0.3,0.6,0.9,0.55,0.45,0.7,1.4,0.5,0.5,0.6,0.25,0.55,0.8,0.6,0.6,0.7,2.0,0.6,
 3.2,0.6,0.4,0.7,0.7,0.5,0.3,0.6,1.0,0.55,0.5,0.7,0.8,0.5,0.2,0.6,0.6,0.5,1.3,0.6,
 0.45,0.6,0.75,0.5,0.3,0.6,1.1,0.55,0.55,0.7,0.4,0.6,0.9,0.5,0.25,0.6,0.65,0.5,1.4,0.6,
 0.5,0.7,0.35,0.6,0.8,0.5,0.6,0.7,1.2,0.55,0.3,0.6,0.7,0.5,0.45,0.6,1.0,0.55,0.4,0.7,
 0.6,0.5,1.6,0.6,0.35,0.7,0.8,0.5,0.5,0.6,0.25,0.55,0.9,0.6,0.45,0.7,1.2,0.5,0.55,0.6,
 0.3,0.6,0.7,0.5,1.0,0.55,0.4,0.7,0.6,0.5,0.2,0.6,0.85,0.5,1.3,0.6,0.45,0.7,0.65,0.5,
 0.35,0.6,1.1,0.55,0.5,0.7,0.75,0.5,0.3,0.6,1.8,0.55,0.45,0.7,0.6,0.5,0.25,0.6,0.9,0.5,
 0.5,0.7,1.2,0.55,0.35,0.6,0.7,0.5,0.45,0.7,1.0,0.55,0.3,0.6,0.6,0.5,1.5,0.6,0.4,0.7,
 0.8,0.5,0.3,0.6,0.65,0.5,1.1,0.6,0.45,0.7,0.25,0.55,0.9,0.6,2.5,0.6,0.5,0.7,0.7,0.5,
 0.35,0.6,1.0,0.5,0.55,0.7,0.4,0.6,1.3,0.55,0.3,0.6,0.7,0.5,0.5,0.7,0.9,0.55,0.2,0.6,
 0.6,0.5,1.2,0.6,0.45,0.7,0.8,0.5,0.35,0.6,1.0,0.55,0.5,0.7,0.3,0.6,1.4,0.5,0.6,0.7,
 0.4,0.6,0.9,0.5,0.3,0.6,1.1,0.55,0.55,0.7,0.7,0.5,0.25,0.6,1.0,0.5,0.5,0.6,0.4,0.5];

var tssaeQualNormal = [5e-2,3e-2,1e-1,4e-2,1.4e-3,3e-2,6e-2,4e-2,2e-2,5e-2,2e-3,4e-2,8e-2,3e-2,3e-2,6e-2,5e-2,2e-2,2e-4,3e-2,
 3e-4,5e-2,3.2e-1,4e-2,3e-2,7e-2,6e-2,3e-2,1.5e-2,4e-2,1.1e-3,5e-2,5e-2,3e-2,2e-2,6e-2,7.5e-4,4e-2,7.4e-1,5e-2,
 2e-4,4e-2,5e-2,3e-2,2e-2,6e-2,8e-2,3e-2,3e-2,5e-2,5e-3,4e-2,6e-2,3e-2,2e-2,5e-2,4e-2,6e-2,3.2e-1,4e-2,
 4e-4,3e-2,5e-2,4e-2,4.2e-1,5e-2,6.8e-5,3e-2,1.6e-4,6e-2,2.2e-1,4e-2,5e-7,3e-2,1.8e-1,5e-2,2e-2,4e-2,1e-3,3e-2,
 4e-2,6e-2,9e-4,4e-2,6e-2,3e-2,1.8e-1,5e-2,3e-2,4e-2,5e-2,3e-2,1.9e-4,4e-2,1.3e-3,5e-2,4e-2,3e-2,5e-2,5e-7];
var tssaeQualAbnormal = [0.12,0.6,1.0,0.6,0.5,0.7,0.8,0.5,0.35,0.6,1.3,0.55,0.6,0.8,0.4,0.6,0.9,0.5,0.5,0.7,
 1.6,0.6,0.45,0.7,0.7,0.5,0.3,0.6,1.1,0.55,0.55,0.8,0.8,0.5,0.4,0.6,2.0,0.6,0.5,0.7,
 0.7,0.5,0.35,0.6,1.2,0.6,0.6,0.8,0.45,0.6,0.9,0.5,0.3,0.6,1.5,0.55,0.5,0.7,0.75,0.5,
 0.4,0.6,1.0,0.5,0.55,0.7,0.3,0.6,1.8,0.55,0.5,0.8,0.7,0.5,0.35,0.6,1.1,0.6,0.6,0.5,
 0.45,0.7,0.9,0.5,0.3,0.6,1.3,0.6,0.5,0.7,2.2,0.6,0.4,0.6,0.7,0.5,0.55,0.8,1.0,0.55,
 0.35,0.6,0.8,0.5,1.5,0.6,0.45,0.7,0.6,0.5,0.3,0.6,1.2,0.55,0.5,0.7,0.9,0.5,0.4,0.6,
 1.0,0.6,0.55,0.7,0.3,0.55,0.8,0.6,1.4,0.5,0.45,0.7,0.7,0.5,0.35,0.6,1.1,0.55,0.5,0.7,
 0.8,0.5,0.4,0.6,1.7,0.6,0.5,0.7,0.3,0.55,0.9,0.6,0.6,0.8,2.4,0.6,0.45,0.7,1.0,0.6,
 0.5,0.7,1.3,0.6,0.35,0.6,0.8,0.7,3.0,0.6,0.5,0.8,0.7,0.5,0.4,0.6,2.6,0.7,0.55,0.6,
 1.1,0.6,0.4,0.7,0.75,0.5,0.3,0.6,1.4,0.55,0.6,0.7,0.45,0.6,0.9,0.5,0.35,0.6,1.2,0.55,
 0.5,0.7,0.8,0.5,0.3,0.6,1.6,0.6,0.55,0.7,0.4,0.6,1.0,0.5,0.6,0.7,0.35,0.6,1.3,0.55,
 0.45,0.6,0.9,0.5,0.5,0.7,0.3,0.6,1.1,0.55,0.7,0.6,0.4,0.7,1.8,0.6,0.5,0.7,0.8,0.5,
 0.35,0.6,1.2,0.55,0.6,0.7,0.45,0.6,2.2,0.6,0.5,0.7,0.8,0.5,0.3,0.6,1.0,0.55,0.55,0.7,
 0.4,0.6,0.9,0.5,1.4,0.6,0.5,0.7,0.3,0.55,0.75,0.6,1.1,0.5,0.45,0.7,0.6,0.5,0.35,0.6,
 1.3,0.6,0.5,0.7,0.8,0.5,0.4,0.6,1.0,0.55,0.3,0.6,0.7,0.5,1.6,0.6,0.45,0.7,0.6,0.5,
 0.35,0.6,1.1,0.55,0.5,0.7,0.8,0.5,0.4,0.6,1.3,0.55,0.55,0.7,0.3,0.6,0.9,0.5,0.6,0.7,
 1.5,0.6,0.45,0.7,0.7,0.5,0.35,0.6,1.0,0.55,0.5,0.7,0.3,0.6,0.8,0.5,1.2,0.6,0.4,0.7,
 0.6,0.5,1.0,0.6,0.35,0.7,0.75,0.5,2.5,0.6,0.5,0.7,0.4,0.6,0.9,0.55,0.3,0.6,1.1,0.5,
 0.5,0.7,0.8,0.5,0.4,0.6,1.4,0.55,0.6,0.7,0.3,0.6,1.0,0.5,0.45,0.7,0.7,0.5,1.6,0.6,
 0.4,0.6,0.9,0.5,0.55,0.7,2.0,0.6,0.35,0.6,0.8,0.5,0.5,0.7,1.2,0.55,0.4,0.6,0.6,0.5];

var tsuaeQualNormal = [8.5e-2,5e-2,3e-2,6e-2,6e-3,3e-2,5e-2,2e-2,2e-2,4e-2,8e-4,3e-2,4e-2,6e-2,1.3e-4,3e-2,6e-2,2e-2,1.5e-2,4e-2,
 7e-2,3e-2,3.2e-1,5e-2,2e-2,4e-2,5e-2,3e-2,1e-2,6e-2,4e-2,2e-2,2e-4,3e-2,6e-2,4e-2,2e-4,5e-2,5.7e-1,3e-2,
 6e-5,4e-2,3e-2,5e-2,8e-2,2e-2,1e-3,3e-2,4e-2,6e-2,1.5e-2,4e-2,6e-2,3e-2,2.5e-2,5e-2,8e-2,3e-2,1.6e-4,4e-2,
 5e-2,3e-2,4.7e-1,4e-2,2e-2,5e-2,6e-2,3e-2,1e-2,2e-2,4e-5,3e-2,5e-5,4e-2,3e-2,5e-2,9e-4,3e-2,6e-2,4e-2,
 2e-2,4e-2,9e-5,3e-2,5e-2,6e-2,3.2e-1,4e-2,2e-2,5e-2,6e-2,3e-2,4e-5,3e-2,5e-4,4e-2,3e-2,5e-2,3e-2,4e-5];
var tsuaeQualAbnormal = [0.09,0.5,0.8,0.5,0.4,0.6,0.6,0.45,0.3,0.5,1.0,0.5,0.5,0.7,0.35,0.5,0.9,0.45,0.45,0.6,
 1.3,0.5,0.4,0.6,0.6,0.45,0.25,0.5,1.0,0.5,0.5,0.7,0.7,0.45,0.35,0.5,1.5,0.5,0.45,0.6,
 0.6,0.45,0.3,0.5,1.1,0.5,0.5,0.6,0.4,0.5,0.8,0.45,0.25,0.5,1.2,0.5,0.45,0.6,0.65,0.45,
 0.35,0.5,0.9,0.45,0.5,0.6,0.25,0.5,1.4,0.5,0.45,0.6,0.6,0.45,0.3,0.5,1.0,0.5,0.5,0.6,
 0.4,0.6,0.8,0.45,0.25,0.5,1.1,0.5,0.45,0.6,1.8,0.5,0.35,0.5,0.6,0.45,0.5,0.6,0.9,0.5,
 0.3,0.5,0.7,0.45,1.3,0.5,0.4,0.6,0.55,0.45,0.25,0.5,1.0,0.5,0.45,0.6,0.8,0.45,0.35,0.5,
 0.9,0.5,0.5,0.6,0.25,0.45,0.7,0.5,1.2,0.5,0.4,0.6,0.6,0.45,0.3,0.5,1.0,0.5,0.45,0.6,
 0.7,0.45,0.35,0.5,1.4,0.5,0.45,0.6,0.25,0.5,0.8,0.45,0.5,0.6,2.0,0.5,0.4,0.6,0.9,0.5,
 0.45,0.6,1.1,0.5,0.3,0.5,0.7,0.6,2.2,0.5,0.45,0.6,0.6,0.45,0.35,0.5,3.0,0.6,0.5,0.6,
 0.9,0.5,0.35,0.6,0.65,0.45,0.25,0.5,1.2,0.5,0.5,0.6,0.4,0.5,0.8,0.45,0.3,0.5,1.0,0.5,
 0.45,0.6,0.7,0.45,0.25,0.5,1.3,0.5,0.5,0.6,0.35,0.5,0.9,0.45,0.55,0.6,0.3,0.5,1.1,0.5,
 0.4,0.5,0.8,0.45,0.45,0.6,0.25,0.5,1.0,0.5,0.6,0.45,0.35,0.5,1.5,0.5,0.45,0.6,0.7,0.45,
 0.3,0.5,1.0,0.5,0.5,0.6,0.4,0.5,1.7,0.5,0.45,0.6,0.7,0.45,0.25,0.5,0.9,0.5,0.5,0.6,
 0.35,0.5,0.8,0.45,1.2,0.5,0.45,0.6,0.25,0.5,0.65,0.45,1.0,0.5,0.4,0.6,0.55,0.45,0.3,0.5,
 1.1,0.5,0.45,0.6,0.7,0.45,0.35,0.5,0.9,0.5,0.25,0.5,0.6,0.45,1.4,0.5,0.4,0.6,0.55,0.45,
 0.3,0.5,1.0,0.5,0.45,0.6,0.7,0.45,0.35,0.5,1.2,0.5,0.5,0.6,0.25,0.5,0.8,0.45,0.55,0.6,
 1.3,0.5,0.4,0.6,0.6,0.45,0.3,0.5,0.9,0.5,0.45,0.6,0.25,0.5,0.7,0.45,1.1,0.5,0.35,0.6,
 0.55,0.45,0.9,0.5,0.3,0.5,0.65,0.45,2.0,0.5,0.45,0.6,0.35,0.5,0.8,0.45,0.25,0.5,1.0,0.5,
 0.45,0.6,0.7,0.45,0.35,0.5,1.2,0.5,0.5,0.6,0.25,0.5,0.9,0.45,0.4,0.5,0.6,0.45,1.4,0.5,
 0.35,0.5,0.8,0.45,0.5,0.6,1.6,0.5,0.3,0.5,0.7,0.45,0.45,0.6,1.0,0.5,0.35,0.45,0.55,0.5];

// thresholds (dashed lines) and y ranges (decade exponents)
var panelNames = ["PCA", "SAE", "TSSAE", "TSUAE", "PLS", "RR", "TSSAE", "TSUAE"];
var thresholds = [0.0105, 0.043, 0.098, 0.059, 0.54, 0.62, 0.39, 0.36];
var normalSeries = [pcaNormal, saeNormal, tssaeProcNormal, tsuaeProcNormal,
                    plsNormal, rrNormal, tssaeQualNormal, tsuaeQualNormal];
var abnormalSeries = [pcaAbnormal, saeAbnormal, tssaeProcAbnormal, tsuaeProcAbnormal,
                      plsAbnormal, rrAbnormal, tssaeQualAbnormal, tsuaeQualAbnormal];
var processDecades = [-3, 0], qualityDecades = [-6, 1];

// ---- layout ----
var colX = [127.5, 1320], plotW = 1025;
var rowY = 46.7, rowStep = 280, plotH = 215.6;
var serif = "'Times New Roman', 'Liberation Serif', serif";
var sans = "'DejaVu Sans', sans-serif";

var svg = d3.select("#chart");
svg.append("rect").attr("width", 2389).attr("height", 1193).attr("fill", "#fff");

var x = d3.scaleLinear().domain([0, 1000]).range([0, plotW]);

function supLabel(sel, exp) {
    var t = sel.append("text").attr("text-anchor", "end").attr("font-family", sans).attr("fill", "#000");
    t.append("tspan").attr("font-size", 25).text("10");
    t.append("tspan").attr("font-size", 17.5).attr("dy", -10)
        .text(exp < 0 ? "\u2212" + (-exp) : "" + exp);
    return t;
}

panelNames.forEach(function(name, k) {
    var col = Math.floor(k / 4), row = k % 4;
    var dec = col === 0 ? processDecades : qualityDecades;
    var g = svg.append("g").attr("transform", "translate(" + colX[col] + "," + (rowY + row * rowStep) + ")");
    var y = d3.scaleLog().domain([Math.pow(10, dec[0]), Math.pow(10, dec[1])]).range([plotH, 0]);

    var clipId = "clip" + k;
    g.append("clipPath").attr("id", clipId).append("rect").attr("width", plotW).attr("height", plotH);

    //minor + major ticks on the log axis
    var majors = d3.range(dec[0], dec[1] + 1);
    var minors = [];
    for (var e = dec[0]; e < dec[1]; e += 1) {
        for (var m = 2; m < 10; m += 1) { minors.push(m * Math.pow(10, e)); }
    }
    var yMinor = g.append("g").call(d3.axisLeft(y).tickValues(minors).tickSize(2.8).tickFormat(""));
    yMinor.select(".domain").remove();
    yMinor.selectAll("line").attr("stroke-width", 0.8);
    var yMajor = g.append("g").call(d3.axisLeft(y).tickValues(majors.map(function(e) { return Math.pow(10, e); })).tickSize(4.9).tickFormat(""));
    yMajor.select(".domain").remove();
    yMajor.selectAll("line").attr("stroke-width", 1.1);
    majors.forEach(function(e) {
        supLabel(g, e).attr("transform", "translate(-10," + (y(Math.pow(10, e)) + 11.4) + ")");
    });

    var xAxis = g.append("g").attr("transform", "translate(0," + plotH + ")")
        .call(d3.axisBottom(x).tickValues(xTicks).tickSize(4.9).tickPadding(9).tickFormat(d3.format("d")));
    xAxis.select(".domain").remove();
    xAxis.selectAll("line").attr("stroke-width", 1.1);
    xAxis.selectAll("text").attr("font-family", sans).attr("font-size", 26).attr("fill", "#000");

    var line = d3.line()
        .x(function(d) { return x(d[0]); })
        .y(function(d) { return y(d[1]); });
    var normalPts = normalSeries[k].map(function(v, i) { return [i * sampleStep, v]; });
    var abnormalPts = abnormalSeries[k].map(function(v, i) { return [faultStart + i * sampleStep, v]; });

    var plot = g.append("g").attr("clip-path", "url(#" + clipId + ")");
    plot.append("path").datum(normalPts).attr("d", line)
        .attr("fill", "none").attr("stroke", "#0000ff").attr("stroke-width", 2.1).attr("stroke-linejoin", "round");
    plot.append("path").datum(abnormalPts).attr("d", line)
        .attr("fill", "none").attr("stroke", "#ff0000").attr("stroke-width", 2.1).attr("stroke-linejoin", "round");
    plot.append("line").attr("x1", 0).attr("x2", plotW)
        .attr("y1", y(thresholds[k])).attr("y2", y(thresholds[k]))
        .attr("stroke", "#000").attr("stroke-width", 2.8).attr("stroke-dasharray", "10.3,4.4");

    g.append("rect").attr("width", plotW).attr("height", plotH)
        .attr("fill", "none").attr("stroke", "#000").attr("stroke-width", 1.1);

    g.append("text").attr("transform", "translate(-90," + (plotH / 2) + ") rotate(-90)")
        .attr("text-anchor", "middle").attr("font-family", serif).attr("font-weight", "bold")
        .attr("font-size", 41).text(name);

    if (row === 0) {
        g.append("text").attr("x", plotW / 2).attr("y", 38 - rowY)
            .attr("text-anchor", "middle").attr("font-family", serif).attr("font-weight", "bold")
            .attr("font-size", 40).text(columnTitles[col]);
    }
    if (row === 3) {
        g.append("text").attr("x", plotW / 2).attr("y", plotH + 70.7)
            .attr("text-anchor", "middle").attr("font-family", serif).attr("font-weight", "bold")
            .attr("font-size", 40).text("Samples");
    }
    if (k === 0) {
        var lg = g.append("g").attr("transform", "translate(9.5,10.3)");
        lg.append("rect").attr("width", 178).attr("height", 97).attr("rx", 4)
            .attr("fill", "#fff").attr("fill-opacity", 0.8).attr("stroke", "#d0d0d0").attr("stroke-width", 1.1);
        var styles = [["#0000ff", null, 2.1], ["#ff0000", null, 2.1], ["#000", "10.3,4.4", 2.8]];
        legendLabels.forEach(function(lab, i) {
            var cy = 17 + i * 29.5;
            lg.append("line").attr("x1", 8).attr("x2", 51).attr("y1", cy).attr("y2", cy)
                .attr("stroke", styles[i][0]).attr("stroke-width", styles[i][2])
                .attr("stroke-dasharray", styles[i][1]);
            lg.append("text").attr("x", 68).attr("y", cy + 7.3).attr("font-family", sans)
                .attr("font-size", 20).text(lab);
        });
    }
});
</script>
</body>
</html>
